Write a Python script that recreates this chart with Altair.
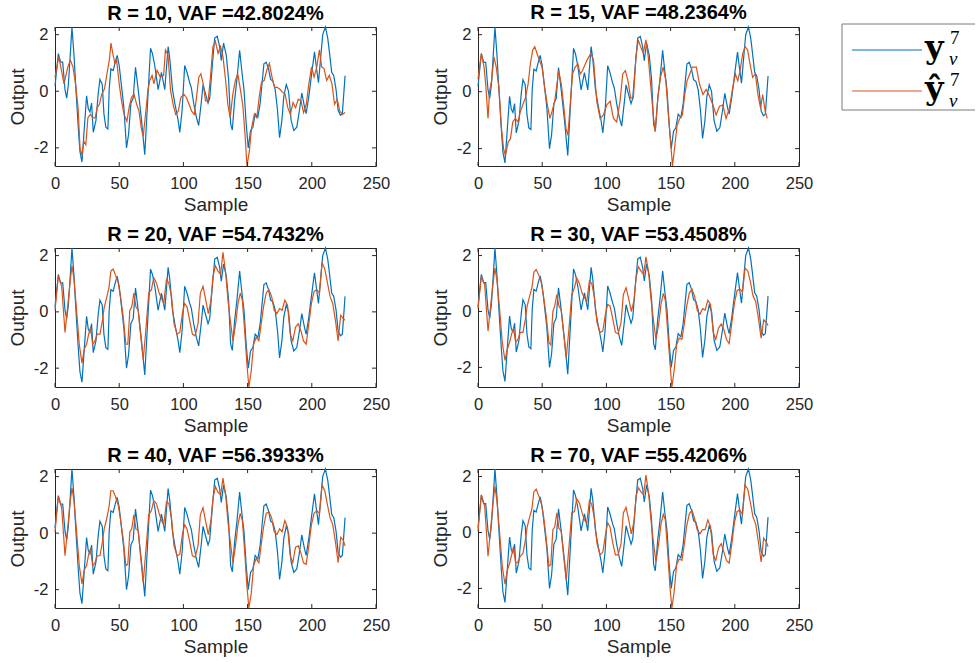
import altair as alt
import pandas as pd

# ---------------- data ----------------
# measured output (blue), identical in all six panels
blue_s = [0, 2.6, 4.4, 6.0, 7.8, 9.1, 10.4, 11.7, 13.2, 14.8,
          16.3, 18.1, 19.4, 21.0, 22.5, 24.6, 25.9, 27.2, 28.5, 29.8,
          31.9, 33.7, 35.0, 36.8, 38.1, 39.6, 41.2, 42.2, 43.5, 45.3,
          46.9, 48.4, 50.0, 51.8, 53.6, 55.7, 57.3, 59.1, 60.9, 62.7,
          64.8, 67.4, 69.9, 74.4, 75.9, 77.7, 80.3, 82.9, 85.5, 88.1,
          89.4, 91.5, 93.3, 95.9, 97.2, 99.0, 101.0, 102.8, 104.9, 106.2,
          108.0, 110.1, 111.9, 114.0, 115.3, 117.4, 119.2, 120.5, 122.5, 124.4,
          126.4, 128.2, 129.5, 131.3, 133.4, 135.2, 136.8, 138.1, 139.9, 141.7,
          143.8, 145.6, 147.2, 148.9, 150.5, 152.3, 154.1, 155.9, 158.0, 159.8,
          162.7, 164.5, 166.3, 167.9, 169.7, 171.5, 173.3, 174.9, 176.7, 178.2,
          180.1, 181.9, 183.9, 186.0, 188.3, 190.4, 192.2, 194.3, 195.6, 197.7,
          199.5, 202.1, 203.4, 205.2, 207.3, 208.5, 210.6, 212.4, 213.7, 215.5,
          217.1, 218.9, 220.5, 222.3, 223.8, 225.9]
blue_v = [0.18, 1.33, 1.03, 1.03, 0.06, -0.24, 0.24, 1.15, 2.27, 1.27,
          0.06, -1.27, -2.12, -2.50, -1.52, -0.16, -0.61, -0.73, -0.42, -1.45,
          -1.03, -0.06, 0.42, 0.24, -0.79, -1.27, -1.33, 0.06, 0.79, 0.73,
          1.03, 1.27, 0.91, 0.18, -0.55, -2.00, -1.52, -0.42, -0.24, 0.85,
          0.06, -1.03, -2.24, 1.52, 1.33, 0.91, 0.06, 0.67, 0.06, 1.58,
          1.15, 0.06, -0.42, -1.03, -1.45, -0.67, 0.91, 0.67, 0.30, 0.12,
          -0.42, -0.91, -1.21, -0.36, 0.24, -0.12, -0.42, -0.24, 0.91, 1.88,
          1.94, 1.58, 1.09, 1.70, 1.27, 0.42, -1.15, -1.37, -0.30, 0.42,
          1.45, 0.67, 0.06, -1.15, -2.00, -1.39, -1.27, -0.79, -0.91, -0.42,
          0.97, 1.03, 0.79, 0.42, 0.36, 0.06, -0.67, -1.64, -1.03, -0.18,
          0.24, 0.00, -1.03, -1.39, -1.27, -0.67, -0.06, -0.55, -0.79, -0.18,
          0.48, 1.39, 0.91, 0.30, 1.39, 2.00, 2.27, 1.88, 1.39, 0.67,
          0.55, 0.06, -0.67, -0.85, -0.79, 0.55]

# prediction R = 10
pred_s_r10 = [0, 3, 5, 7, 10, 12, 14, 16, 18, 19.5,
              21, 22.5, 24, 25.6, 27.4, 29.5, 31.3, 32.8, 34.6, 36.4,
              38.5, 40.5, 42.3, 43.6, 45, 46.7, 48, 50, 51.8, 53.8,
              56, 57.7, 59.5, 61.5, 63.6, 65.4, 67.2, 68.7, 70.5, 72.3,
              73.8, 75.6, 77, 79.5, 82, 84.6,
              86, 88, 90, 92, 94, 96, 98, 100.3, 102.3, 104.4,
              106.4, 108.5, 110.5, 112, 113.6, 115.4, 117.2, 119.3, 121.3, 123,
              124.9, 127, 129, 130.8, 132.9, 134.6, 136.4, 138.5, 140.5, 142.3,
              144.1, 146.2, 148, 149.5, 151.3, 153.1, 155.2, 157.2, 159, 160.8,
              162.9, 164.9, 167, 169, 171,
              173, 175, 177.2, 179.2, 181.3, 183.3, 185.4, 187.4, 189.5, 191.6,
              193.6, 195.7, 197.7, 199.8, 201.8, 203.9, 205.9, 207.7, 209.5, 211.6,
              213.6, 215.7, 217.7, 219.8, 221.8, 223.9, 225.9]
pred_r10 = [0.50, 1.22, 0.74, 0.26, 0.86, 1.10, 0.86, 0.26, -0.60, -2.01,
            -2.25, -1.77, -1.89, -0.94, -0.82, -0.94, -0.94, -0.58, -0.46, -0.10,
            0.08, 0.62, 1.10, 1.70, 1.34, 0.98, 1.10, 0.26, -0.34, -0.82,
            -1.06, -0.58, -0.22, -0.10, -0.46, -0.70, -1.29, -1.59, -0.82, 0.02,
            0.38, 0.56, 0.26, 0.74, 0.50, 0.56,
            1.46, 1.28, 0.02, -0.46, -0.82, -0.70, -0.22, -0.10, -0.22, -0.46,
            -0.70, -0.82, -0.10, 0.50, 0.62, 0.26, -0.34, -0.34, 0.62, 1.58,
            1.76, 1.34, 1.58, 1.22, 0.38, -0.46, -0.94, -0.10, 0.38, 0.62,
            0.14, -0.46, -1.53, -2.64, -2.13, -1.29, -0.82, -0.94, -0.22, 0.32,
            0.38, 0.74, 0.98, 0.50, 0.14,
            0.14, 0.08, -0.04, -0.10, -0.58, -0.82, -0.40, -0.58, -0.28, -0.34,
            -0.76, -0.46, 0.26, 0.86, 0.50, 0.86, 1.46, 0.86, 0.80, 0.38,
            0.56, 0.26, -0.46, -0.28, -0.70, -0.82, -0.75]

# prediction R = 15
pred_s_r15 = [0, 2.6, 4.7, 6.0, 7.8, 9.0, 10.6, 12.4, 14.2, 16.3,
              18.3, 19.9, 21.4, 23.5, 25.3, 27.1, 29.1, 31.2, 33.0, 34.9,
              36.9, 39.0, 40.8, 42.6, 44.2, 46.0, 47.8, 49.9, 51.9, 54.0,
              56.0, 57.6, 59.7, 61.5, 62.8, 64.9, 66.7, 68.5, 70.0, 71.8,
              73.6, 75.7, 77.8, 79.6, 81.4,
              84.8, 87.9, 90.0, 92.5, 95.1, 97.7, 100.3, 102.9, 105.5, 108.0,
              110.6, 112.7, 114.8, 116.8, 118.9, 121.0, 123.0, 124.8, 126.6, 128.7,
              130.8, 132.6, 134.4, 136.5, 138.0, 140.3, 142.1, 144.2, 146.3, 148.3,
              150.2, 151.5, 153.3, 155.1, 157.1, 159.2, 161.0, 162.8, 164.9, 166.9,
              170.0, 172.6, 175.2, 177.7, 180.3, 182.9, 185.5, 188.0, 190.7, 193.2,
              195.8, 198.4, 200.5, 202.3, 204.1, 206.2, 208.0, 210.0, 211.8, 213.9,
              216.0, 218.0, 220.1, 221.7, 223.7, 225.3]
pred_r15 = [0.44, 1.34, 0.86, 0.26, -0.94, 0.02, 0.38, 1.22, 0.86, 0.14,
            -1.29, -2.01, -2.25, -1.77, -1.65, -1.06, -0.94, -1.06, -0.70, -0.46,
            -0.22, 0.26, 0.98, 1.46, 1.58, 1.34, 1.10, 0.86, 0.14, -0.46,
            -0.94, -0.70, -0.34, 0.26, 0.74, 0.26, -0.46, -1.29, -1.53, -0.46,
            0.62, 0.86, 0.98, 0.62, 0.74,
            1.10, 1.34, 1.10, -0.34, -0.94, -0.82, -0.46, -0.34, -0.94, -1.06,
            -0.34, 0.62, 0.74, 0.38, -0.22, -0.22, 1.22, 1.82, 1.58, 1.34,
            1.82, 1.22, 0.26, -0.82, -1.41, -0.10, 0.50, 0.86, 0.38, -0.82,
            -1.89, -2.61, -1.89, -1.17, -0.94, -0.82, -0.10, 0.38, 0.62, 0.86,
            0.86, 0.26, -0.10, 0.08, -0.16, -0.46, -0.82, -0.52, -0.46, -0.94,
            -0.58, 0.14, 0.62, 0.38, 0.74, 1.34, 1.58, 1.46, 0.98, 0.50,
            0.62, -0.10, -0.58, -0.10, -0.70, -0.94]

# predictions R = 20, 30, 40, 70 share one sample grid
pred_s_hi = [0, 2.6, 5.2, 7.8, 9.6, 11.7, 13.2, 14.8, 16.8, 18.9,
             21.0, 22.8, 24.6, 26.2, 27.7, 29.3, 31.1, 32.9, 35.0, 36.8,
             38.3, 40.2, 42.0, 43.5, 45.3, 47.4, 49.2, 51.0, 53.1, 55.2,
             56.7, 58.3, 59.8, 61.4, 63.0, 64.8, 66.6, 68.7, 70.7, 73.0,
             75.1, 76.9, 79.0, 81.1, 82.9, 84.7, 86.8, 88.6, 90.7, 92.7,
             95.1, 97.2, 99.2, 101.0, 102.8, 104.9, 107.0, 109.1, 111.4, 113.2,
             115.3, 117.4, 119.4, 121.5, 123.1, 124.9, 126.9, 129.0, 130.8, 132.9,
             134.7, 136.5, 138.6, 140.7, 142.5, 144.3, 145.9, 147.7, 149.5, 151.0,
             152.8, 154.7, 156.7, 158.8, 160.6, 162.4, 164.5, 166.6, 168.7, 170.7,
             172.8, 174.9, 176.9, 179.0, 181.1, 183.2, 185.2, 187.3, 189.4, 191.5,
             193.5, 195.6, 197.7, 199.7, 201.8, 203.9, 206.0, 208.0, 210.1, 212.2,
             214.2, 216.3, 218.4, 220.5, 222.5, 224.6, 225.9]
pred_r20 = [0.06, 1.27, 0.91, -0.73, 0.06, 1.03, 1.64, 1.15, 0.06, -1.15,
            -1.82, -1.33, -1.15, -0.79, -0.55, -1.15, -1.03, -0.79, -0.79, -0.35,
            0.15, 0.50, 0.85, 1.45, 1.52, 1.27, 1.03, 0.55, -0.18, -1.15,
            -1.15, 0.06, 0.18, 0.67, 0.18, 0.06, -0.79, -1.70, -0.67, 0.67,
            0.79, 1.21, 1.03, 0.67, 0.48, 0.30, 1.15, 1.03, 0.55, -0.42,
            -0.79, -0.73, -0.06, 0.30, 0.18, -0.30, -0.79, -0.85, -0.42, 0.67,
            0.91, 0.42, -0.06, 0.42, 1.27, 1.64, 1.45, 1.33, 2.12, 1.39,
            0.42, -0.30, -1.03, -0.42, 0.30, 0.67, 0.42, -0.67, -1.88, -2.67,
            -2.12, -1.15, -0.91, -1.03, -0.42, 0.18, 0.67, 0.79, 0.55, 0.06,
            -0.06, 0.12, 0.06, 0.42, 0.24, -0.79, -1.03, -0.55, -0.42, -0.67,
            -1.03, -1.15, -0.42, 0.30, 0.73, 0.79, 0.67, 1.76, 1.52, 1.03,
            0.55, 0.30, -0.30, -1.03, -0.12, -0.24, -0.30]
pred_r30 = [0.10, 1.25, 0.95, -0.70, 0.10, 1.00, 1.55, 1.10, 0.10, -1.10,
            -1.75, -1.35, -1.10, -0.80, -0.60, -1.10, -1.00, -0.75, -0.75, -0.30,
            0.20, 0.55, 0.85, 1.40, 1.50, 1.30, 1.05, 0.55, -0.15, -1.10,
            -1.20, 0.00, 0.20, 0.60, 0.20, 0.05, -0.75, -1.65, -0.70, 0.60,
            0.85, 1.20, 1.00, 0.65, 0.50, 0.35, 1.10, 1.00, 0.50, -0.40,
            -0.75, -0.70, -0.10, 0.25, 0.20, -0.25, -0.75, -0.80, -0.40, 0.60,
            0.85, 0.45, 0.00, 0.40, 1.20, 1.60, 1.45, 1.30, 1.95, 1.40,
            0.45, -0.25, -1.00, -0.45, 0.25, 0.65, 0.40, -0.70, -1.85, -2.70,
            -2.10, -1.20, -0.95, -1.00, -0.45, 0.15, 0.65, 0.80, 0.55, 0.05,
            -0.10, 0.10, 0.05, 0.40, 0.25, -0.75, -1.00, -0.60, -0.45, -0.65,
            -1.00, -1.15, -0.40, 0.30, 0.75, 0.80, 0.70, 1.55, 1.45, 1.05,
            0.55, 0.35, -0.25, -0.95, -0.30, -0.40, -0.50]
pred_r40 = [0.05, 1.30, 0.90, -0.80, 0.05, 1.05, 1.60, 1.15, 0.05, -1.15,
            -1.80, -1.30, -1.15, -0.75, -0.55, -1.15, -1.05, -0.80, -0.80, -0.35,
            0.15, 0.50, 0.90, 1.50, 1.50, 1.25, 1.00, 0.50, -0.20, -1.15,
            -1.10, 0.05, 0.15, 0.65, 0.15, 0.10, -0.80, -1.75, -0.65, 0.65,
            0.80, 1.15, 1.05, 0.70, 0.45, 0.30, 1.10, 1.05, 0.55, -0.45,
            -0.80, -0.75, -0.05, 0.30, 0.15, -0.30, -0.80, -0.85, -0.45, 0.65,
            0.90, 0.40, -0.05, 0.45, 1.25, 1.65, 1.45, 1.35, 1.95, 1.35,
            0.40, -0.30, -1.05, -0.40, 0.30, 0.70, 0.45, -0.65, -1.90, -2.65,
            -2.15, -1.15, -0.90, -1.05, -0.40, 0.20, 0.70, 0.75, 0.55, 0.05,
            -0.05, 0.15, 0.05, 0.45, 0.20, -0.80, -1.05, -0.50, -0.45, -0.70,
            -1.05, -1.10, -0.45, 0.30, 0.70, 0.80, 0.70, 1.70, 1.50, 1.00,
            0.55, 0.30, -0.30, -1.05, -0.15, -0.25, -0.45]
pred_r70 = [0.05, 1.35, 0.95, -0.85, 0.00, 1.05, 1.65, 1.10, 0.00, -1.20,
            -1.85, -1.35, -1.10, -0.80, -0.50, -1.10, -1.05, -0.85, -0.75, -0.30,
            0.20, 0.55, 0.85, 1.45, 1.55, 1.30, 1.05, 0.60, -0.20, -1.20,
            -1.15, 0.10, 0.20, 0.70, 0.15, 0.05, -0.80, -1.70, -0.60, 0.70,
            0.75, 1.20, 1.05, 0.70, 0.45, 0.35, 1.15, 1.00, 0.50, -0.40,
            -0.80, -0.70, -0.10, 0.35, 0.20, -0.35, -0.80, -0.80, -0.40, 0.70,
            0.90, 0.45, -0.05, 0.40, 1.30, 1.60, 1.45, 1.35, 2.05, 1.40,
            0.45, -0.30, -1.05, -0.40, 0.30, 0.65, 0.45, -0.70, -1.95, -2.70,
            -2.10, -1.15, -0.95, -1.00, -0.45, 0.20, 0.65, 0.80, 0.50, 0.10,
            -0.05, 0.10, 0.10, 0.45, 0.20, -0.80, -1.00, -0.55, -0.40, -0.70,
            -1.00, -1.10, -0.40, 0.35, 0.75, 0.80, 0.65, 1.70, 1.55, 1.05,
            0.55, 0.30, -0.35, -1.05, -0.20, -0.35, -0.50]

ranks = [10, 15, 20, 30, 40, 70]
vafs = ["42.8024", "48.2364", "54.7432", "53.4508", "56.3933", "55.4206"]
x_ticks = [0, 50, 100, 150, 200, 250]
y_ticks = [-2, 0, 2]

# ---------------- style ----------------
W, H = 321, 139
FONT = "Liberation Sans"
SERIF = "DejaVu Serif"
SERIF2 = "Liberation Serif"
BLUE = "#0072BD"
ORANGE = "#D95319"
AX = "#262626"


def frame(s, v):
    n = min(len(s), len(v))
    return pd.DataFrame({"sample": s[:n], "output": v[:n]})


leg_df = pd.DataFrame({"k": [0]})


def lrule(color, width, x, y, x2=None, y2=None):
    enc = {"x": alt.value(x), "y": alt.value(y)}
    if x2 is not None:
        enc["x2"] = alt.value(x2)
    if y2 is not None:
        enc["y2"] = alt.value(y2)
    return alt.Chart(leg_df).mark_rule(color=color, strokeWidth=width).encode(**enc)


def ltext(txt, x, y, size, weight="normal", style="normal", font=SERIF):
    return alt.Chart(leg_df).mark_text(
        font=font, fontSize=size, fontWeight=weight, fontStyle=style,
        align="left", baseline="alphabetic", color="black"
    ).encode(x=alt.value(x), y=alt.value(y), text=alt.value(txt))


def legend_layers():
    return [
        lrule("#7a7a7a", 1, 364, -3, x2=497),
        lrule("#7a7a7a", 1, 364, 83, x2=497),
        lrule("#7a7a7a", 1, 364, -3, y2=83),
        lrule(BLUE, 1.2, 374, 23, x2=444),
        lrule(ORANGE, 1.2, 374, 64, x2=444),
        ltext("y", 447, 31, 32, weight="bold"),
        ltext("7", 472, 17, 19, font=SERIF2),
        ltext("v", 471, 38, 19, style="italic", font=SERIF2),
        ltext("ŷ", 447, 72, 32, weight="bold"),
        ltext("7", 472, 59, 19, font=SERIF2),
        ltext("v", 471, 80, 19, style="italic", font=SERIF2),
    ]


def panel(i, ps, pv, with_legend=False):
    xaxis = alt.Axis(values=x_ticks, title="Sample", ticks=False, domain=False, grid=False,
                     labelFont=FONT, labelFontSize=16.5, labelColor=AX, labelPadding=9,
                     labelFlush=False, labelOverlap=False,
                     titleFont=FONT, titleFontSize=19, titleFontWeight="normal",
                     titleColor=AX, titlePadding=4)
    yaxis = alt.Axis(values=y_ticks, title="Output", ticks=False, domain=False, grid=False,
                     labelFont=FONT, labelFontSize=16.5, labelColor=AX, labelPadding=7,
                     labelFlush=False, labelOverlap=False,
                     labelExpr="replace(datum.label, '\u2212', '-')",
                     titleFont=FONT, titleFontSize=19, titleFontWeight="normal",
                     titleColor=AX, titlePadding=6)
    xs = alt.Scale(domain=[0, 250], nice=False, zero=False)
    ys = alt.Scale(zero=False, nice=False)

    blue = alt.Chart(frame(blue_s, blue_v)).mark_line(color=BLUE, strokeWidth=1.2).encode(
        x=alt.X("sample:Q", scale=xs, axis=xaxis),
        y=alt.Y("output:Q", scale=ys, axis=yaxis),
    )
    orange = alt.Chart(frame(ps, pv)).mark_line(color=ORANGE, strokeWidth=1.2).encode(
        x="sample:Q", y="output:Q"
    )
    xt = pd.DataFrame({"sample": x_ticks})
    yt = pd.DataFrame({"output": y_ticks})
    tick_b = alt.Chart(xt).mark_rule(color=AX, strokeWidth=1).encode(
        x="sample:Q", y=alt.value(H), y2=alt.value(H - 4))
    tick_t = alt.Chart(xt).mark_rule(color=AX, strokeWidth=1).encode(
        x="sample:Q", y=alt.value(0), y2=alt.value(4))
    tick_l = alt.Chart(yt).mark_rule(color=AX, strokeWidth=1).encode(
        y="output:Q", x=alt.value(0), x2=alt.value(4))
    tick_r = alt.Chart(yt).mark_rule(color=AX, strokeWidth=1).encode(
        y="output:Q", x=alt.value(W), x2=alt.value(W - 4))

    layers = [blue, orange, tick_b, tick_t, tick_l, tick_r]
    if with_legend:
        layers += legend_layers()
    title = alt.TitleParams(text=f"R = {ranks[i]}, VAF ={vafs[i]}%", font=FONT,
                            fontSize=20, fontWeight="bold", color="black",
                            anchor="middle", offset=1)
    return alt.layer(*layers).properties(width=W, height=H, title=title)


preds = [(pred_s_r10, pred_r10), (pred_s_r15, pred_r15), (pred_s_hi, pred_r20),
         (pred_s_hi, pred_r30), (pred_s_hi, pred_r40), (pred_s_hi, pred_r70)]

panels = [panel(i, s, v, with_legend=(i == 1)) for i, (s, v) in enumerate(preds)]

chart = alt.concat(*panels, columns=2, spacing={"row": 82, "column": 102},
                   bounds="flush").properties(
    padding={"left": 7, "top": 2, "right": 0, "bottom": 0},
    background="white",
).configure_view(stroke=AX, strokeWidth=1)

chart.save("out.html", embed_options={"renderer": "svg", "actions": False})
